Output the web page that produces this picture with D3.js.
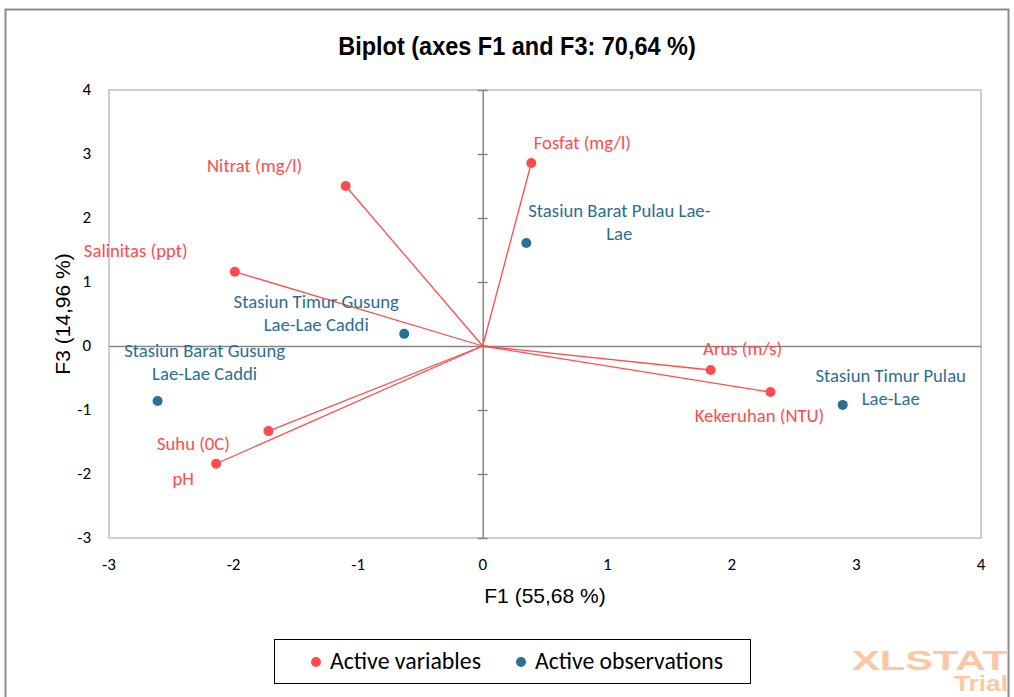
<!DOCTYPE html>
<html>
<head>
<meta charset="utf-8">
<script src="https://cdn.jsdelivr.net/npm/d3@7"></script>
<style>
  body { margin: 0; background: #fff; }
  svg { display: block; }
</style>
</head>
<body>
<div id="chart"></div>
<script>
// values
const variableNames = ['Nitrat (mg/l)', 'Salinitas (ppt)', 'Suhu (0C)', 'pH', 'Fosfat (mg/l)', 'Arus (m/s)', 'Kekeruhan (NTU)'];
const variableF1 = [-1.10, -1.99, -1.72, -2.14, 0.39, 1.83, 2.31];
const variableF3 = [2.50, 1.16, -1.33, -1.84, 2.86, -0.375, -0.72];

const obsNames = ['Stasiun Barat Pulau Lae-Lae', 'Stasiun Timur Gusung Lae-Lae Caddi', 'Stasiun Barat Gusung Lae-Lae Caddi', 'Stasiun Timur Pulau Lae-Lae'];
const obsF1 = [0.35, -0.63, -2.61, 2.89];
const obsF3 = [1.61, 0.19, -0.86, -0.92];

const xTicks = [-3, -2, -1, 0, 1, 2, 3, 4];
const yTicks = [-3, -2, -1, 0, 1, 2, 3, 4];

// label layout: offset of the text centre from its point, and line breaks
const labelPos = {
  'Nitrat (mg/l)': { dx: -91, dy: -14, lines: ['Nitrat (mg/l)'] },
  'Salinitas (ppt)': { dx: -99, dy: -15, lines: ['Salinitas (ppt)'] },
  'Suhu (0C)': { dx: -75, dy: 19, lines: ['Suhu (0C)'] },
  'pH': { dx: -33, dy: 21, lines: ['pH'] },
  'Fosfat (mg/l)': { dx: 51, dy: -14, lines: ['Fosfat (mg/l)'] },
  'Arus (m/s)': { dx: 32, dy: -15, lines: ['Arus (m/s)'] },
  'Kekeruhan (NTU)': { dx: -11, dy: 30, lines: ['Kekeruhan (NTU)'] },
  'Stasiun Barat Pulau Lae-Lae': { dx: 93, dy: -26, lines: ['Stasiun Barat Pulau Lae-', 'Lae'] },
  'Stasiun Timur Gusung Lae-Lae Caddi': { dx: -88, dy: -26, lines: ['Stasiun Timur Gusung', 'Lae-Lae Caddi'] },
  'Stasiun Barat Gusung Lae-Lae Caddi': { dx: 47, dy: -44, lines: ['Stasiun Barat Gusung', 'Lae-Lae Caddi'] },
  'Stasiun Timur Pulau Lae-Lae': { dx: 48, dy: -23, lines: ['Stasiun Timur Pulau', 'Lae-Lae'] }
};

const width = 1014, height = 697;
const margin = { top: 90, right: 33, bottom: 159, left: 109 };
const red = '#ff4b4b', blue = '#2b6f93';
const labelFont = 'Carlito, Calibri, "Open Sans", sans-serif';
const arialFont = 'Arial, "Liberation Sans", sans-serif';

const svg = d3.select('#chart').append('svg')
  .attr('width', width)
  .attr('height', height);

// outer frame
svg.append('rect')
  .attr('x', 5.5).attr('y', 9.5)
  .attr('width', 1003).attr('height', 700)
  .attr('fill', 'none').attr('stroke', '#8c8c8c').attr('stroke-width', 2);

const x = d3.scaleLinear().domain([-3, 4]).range([margin.left, width - margin.right]);
const y = d3.scaleLinear().domain([-3, 4]).range([height - margin.bottom, margin.top]);

// title
svg.append('text')
  .attr('transform', 'translate(517,55) scale(1,1.1)')
  .attr('text-anchor', 'middle')
  .attr('font-family', arialFont).attr('font-weight', 'bold').attr('font-size', 23.5)
  .text('Biplot (axes F1 and F3: 70,64 %)');

// plot border
svg.append('rect')
  .attr('x', x(-3)).attr('y', y(4))
  .attr('width', x(4) - x(-3)).attr('height', y(-3) - y(4))
  .attr('fill', 'none').attr('stroke', '#bfbfbf').attr('stroke-width', 1.5);

// zero axes with ticks
const xAxis = d3.axisBottom(x).tickValues(xTicks).tickSize(0).tickFormat('');
svg.append('g').attr('transform', `translate(0,${y(0)})`).call(xAxis)
  .call(g => g.select('.domain').attr('stroke', '#868686').attr('stroke-width', 1.5));

const yAxis = d3.axisLeft(y).tickValues(yTicks).tickSizeInner(5).tickSizeOuter(0).tickFormat('');
svg.append('g').attr('transform', `translate(${x(0)},0)`).call(yAxis)
  .call(g => g.select('.domain').attr('stroke', '#868686').attr('stroke-width', 1.5))
  .call(g => g.selectAll('.tick line').attr('x1', 5).attr('stroke', '#868686').attr('stroke-width', 1.5));

// tick labels
svg.append('g').selectAll('text')
  .data(xTicks).join('text')
  .attr('x', d => x(d)).attr('y', y(-3) + 32)
  .attr('text-anchor', 'middle')
  .attr('font-family', labelFont).attr('font-size', 17).attr('fill', '#000')
  .text(d => d);

svg.append('g').selectAll('text')
  .data(yTicks).join('text')
  .attr('x', x(-3) - 18).attr('y', d => y(d) + 5)
  .attr('text-anchor', 'end')
  .attr('font-family', labelFont).attr('font-size', 17).attr('fill', '#000')
  .text(d => d);

// axis titles
svg.append('text')
  .attr('x', (x(-3) + x(4)) / 2).attr('y', 603)
  .attr('text-anchor', 'middle')
  .attr('font-family', arialFont).attr('font-size', 21)
  .text('F1 (55,68 %)');

svg.append('text')
  .attr('transform', `translate(70,${(y(4) + y(-3)) / 2}) rotate(-90)`)
  .attr('text-anchor', 'middle')
  .attr('font-family', arialFont).attr('font-size', 21)
  .text('F3 (14,96 %)');

// variable vectors
const variables = variableNames.map((n, i) => ({ name: n, f1: variableF1[i], f3: variableF3[i] }));
const observations = obsNames.map((n, i) => ({ name: n, f1: obsF1[i], f3: obsF3[i] }));

svg.append('g').selectAll('line')
  .data(variables).join('line')
  .attr('x1', x(0)).attr('y1', y(0))
  .attr('x2', d => x(d.f1)).attr('y2', d => y(d.f3))
  .attr('stroke', red).attr('stroke-width', 1.3);

function drawLabels(data, color) {
  const g = svg.append('g');
  data.forEach(d => {
    const p = labelPos[d.name];
    const t = g.append('text')
      .attr('text-anchor', 'middle')
      .attr('font-family', labelFont).attr('font-size', 18.7)
      .attr('fill', color);
    p.lines.forEach((line, j) => {
      t.append('tspan')
        .attr('x', x(d.f1) + p.dx)
        .attr('y', y(d.f3) + p.dy + j * 23)
        .text(line);
    });
  });
}

drawLabels(variables, red);
drawLabels(observations, blue);

svg.append('g').selectAll('circle')
  .data(variables).join('circle')
  .attr('cx', d => x(d.f1)).attr('cy', d => y(d.f3))
  .attr('r', 5).attr('fill', red);

svg.append('g').selectAll('circle')
  .data(observations).join('circle')
  .attr('cx', d => x(d.f1)).attr('cy', d => y(d.f3))
  .attr('r', 5).attr('fill', blue);

// legend
const legend = svg.append('g');
legend.append('rect')
  .attr('x', 274.5).attr('y', 639.5).attr('width', 476).attr('height', 44)
  .attr('fill', '#fff').attr('stroke', '#000').attr('stroke-width', 1);
const legendItems = [
  { label: 'Active variables', color: red, x: 316, w: 151 },
  { label: 'Active observations', color: blue, x: 521, w: 188 }
];
legendItems.forEach(it => {
  legend.append('circle').attr('cx', it.x).attr('cy', 662).attr('r', 5).attr('fill', it.color);
  legend.append('text').attr('x', it.x + 14).attr('y', 669)
    .attr('textLength', it.w).attr('lengthAdjust', 'spacingAndGlyphs')
    .attr('font-family', labelFont).attr('font-size', 23.5).attr('fill', '#000')
    .text(it.label);
});

// watermark
svg.append('text')
  .attr('x', 852).attr('y', 670)
  .attr('textLength', 156).attr('lengthAdjust', 'spacingAndGlyphs')
  .attr('font-family', arialFont).attr('font-weight', 'bold').attr('font-size', 28)
  .attr('fill', '#fdc7a3').text('XLSTAT');
svg.append('text')
  .attr('x', 954).attr('y', 691)
  .attr('textLength', 54).attr('lengthAdjust', 'spacingAndGlyphs')
  .attr('font-family', arialFont).attr('font-weight', 'bold').attr('font-size', 22)
  .attr('fill', '#fdc7a3').text('Trial');
</script>
</body>
</html>
